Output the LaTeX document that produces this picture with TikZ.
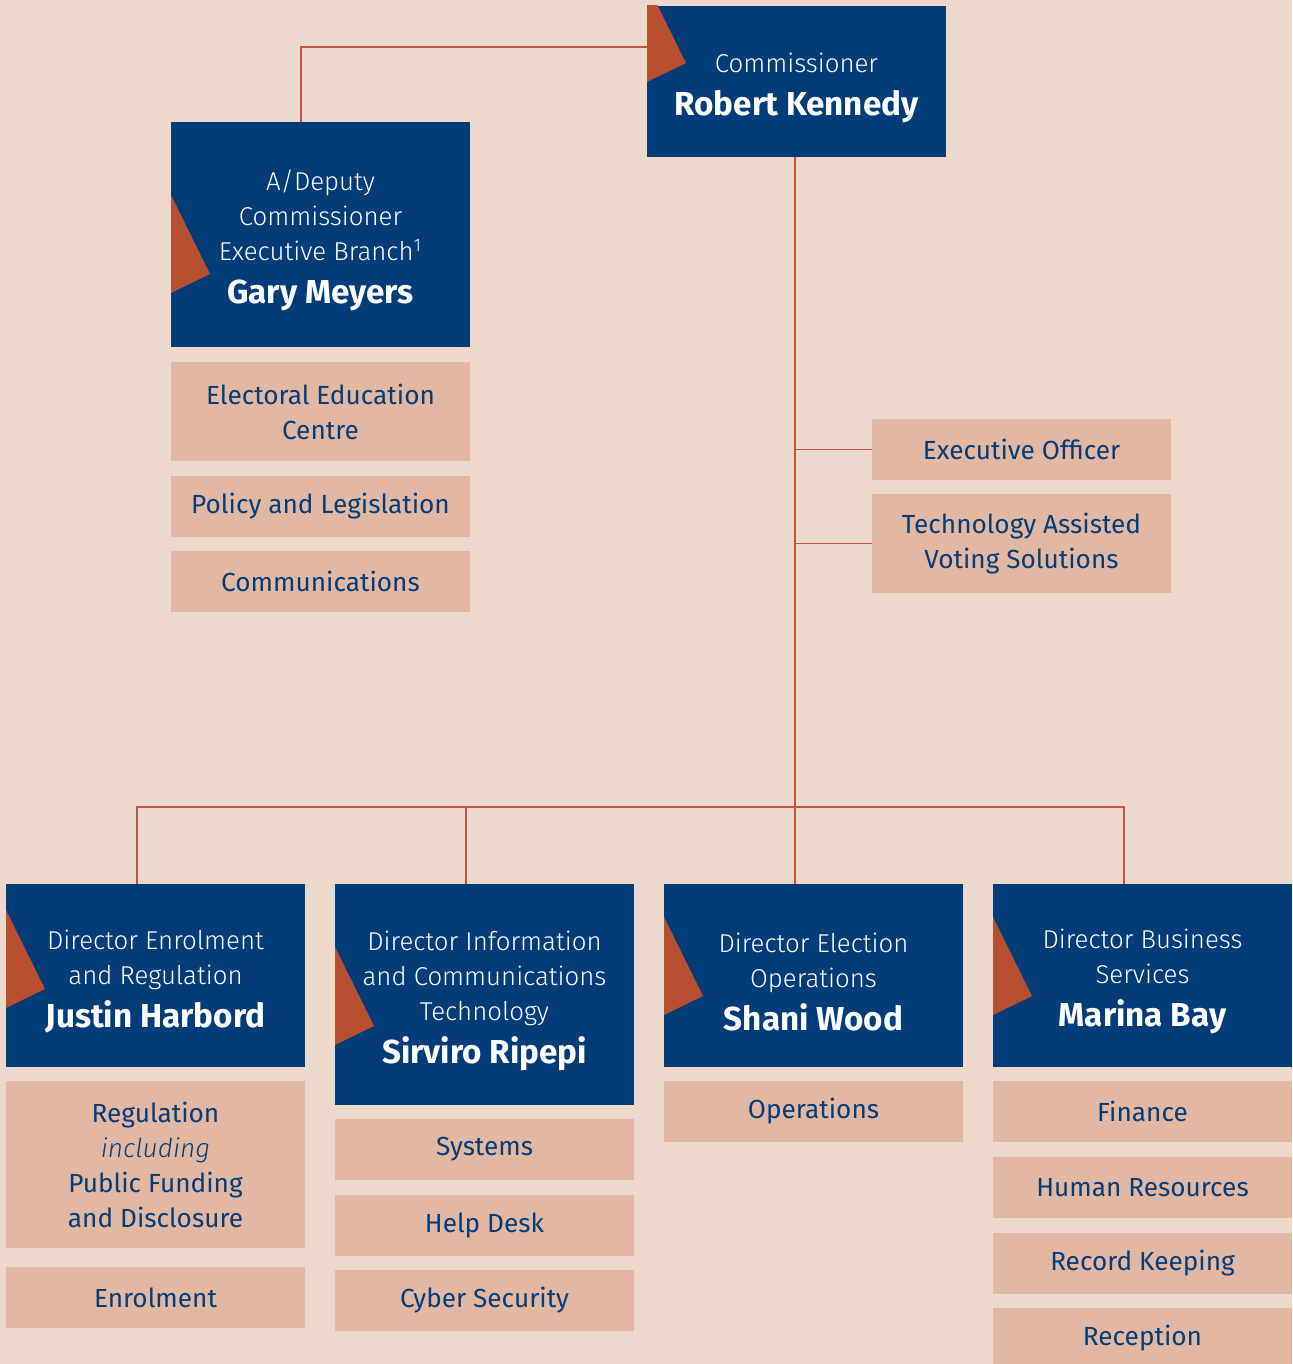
\documentclass[tikz,border=0pt]{standalone}
\usepackage{fontspec}
\setmainfont{Fira Sans}
\newfontfamily\lightfont{Fira Sans Light}
\newfontfamily\namefont{Fira Sans Bold}
\usepackage{xcolor}
\usetikzlibrary{positioning, calc}

\definecolor{pagebg}{HTML}{ECD9CB}
\definecolor{boxblue}{HTML}{023D7A}
\definecolor{accent}{HTML}{B84F30}
\definecolor{unitbg}{HTML}{E2B8A3}
\definecolor{linecol}{HTML}{C0563B}

\newcommand{\titlefont}{\lightfont\fontsize{12.9}{17.5}\selectfont}
\newcommand{\headstrut}{\rule{0pt}{16pt}}
\newcommand{\bigname}[1]{\\[4pt]{\namefont\fontsize{16.6}{20}\selectfont #1}}

\tikzset{
	headbox/.style 2 args={fill=boxblue, text=white, inner sep=0pt,
		minimum width=149.5pt, minimum height=#1, align=center,
		font=\titlefont,
		path picture={\fill[accent] ([yshift=-#2]path picture bounding box.north west)
			-- ++(19.5pt,-39.5pt) -- ++(-19.5pt,-9.5pt) -- cycle;}},
	unitbox/.style={fill=unitbg, text=boxblue, inner sep=0pt,
		minimum width=149.5pt, minimum height=#1, align=center,
		font=\fontsize{13.1}{17.5}\selectfont},
	unitbox/.default=30.5pt,
	link/.style={draw=linecol, line width=0.75pt}
}

\begin{document}
\begin{tikzpicture}[x=0.5pt, y=-0.5pt]
	\fill[pagebg] (0,0) rectangle (1292,1364);
	\useasboundingbox (0,0) rectangle (1292,1364);

	% Heads
	\node[headbox={75.5pt}{-11pt}] (comm) at (796.5,81.5) {\headstrut Commissioner\bigname{Robert Kennedy}};
	\node[headbox={112.5pt}{36.5pt}] (dep) at (320.5,234.5) {\headstrut A/Deputy\\Commissioner\\Executive Branch\textsuperscript{1}\bigname{Gary Meyers}};

	\node[headbox={91.5pt}{13pt}] (enr) at (155.5,975.5) {\headstrut Director Enrolment\\and Regulation\bigname{Justin Harbord}};
	\node[headbox={110.5pt}{31.5pt}] (ict) at (484.5,994.5) {\headstrut Director Information\\and Communications\\Technology\bigname{Sirviro Ripepi}};
	\node[headbox={91.5pt}{16.5pt}] (eop) at (813.5,975.5) {\headstrut Director Election\\Operations\bigname{Shani Wood}};
	\node[headbox={91.5pt}{16.5pt}] (bus) at (1142.5,975.5) {\headstrut Director Business\\Services\bigname{Marina Bay}};

	% Units
	\node[unitbox=49.5pt] (eec) at (320.5,411.5) {Electoral Education\\Centre};
	\node[unitbox] (pol) at (320.5,506) {Policy and Legislation};
	\node[unitbox] (com) at (320.5,581.5) {Communications};

	\node[unitbox] (exo) at (1021.5,449.5) {Executive Officer};
	\node[unitbox=49.5pt] (tav) at (1021.5,543.5) {Technology Assisted\\Voting Solutions};

	\node[unitbox=83.5pt] (reg) at (155.5,1164.5) {Regulation\\{\lightfont\itshape including}\\Public Funding\\and Disclosure};
	\node[unitbox] (enrl) at (155.5,1297.5) {Enrolment};

	\node[unitbox] (sys) at (484.5,1149.5) {Systems};
	\node[unitbox] (hlp) at (484.5,1225.5) {Help Desk};
	\node[unitbox] (cyb) at (484.5,1300.5) {Cyber Security};

	\node[unitbox] (ops) at (813.5,1111.5) {Operations};

	\node[unitbox] (fin) at (1142.5,1111.5) {Finance};
	\node[unitbox] (hr) at (1142.5,1187.5) {Human Resources};
	\node[unitbox] (rk) at (1142.5,1263.5) {Record Keeping};
	\node[unitbox] (rcp) at (1142.5,1338.5) {Reception};

	% Reporting lines
	\coordinate (rail) at (0,807);
	\coordinate (enrin) at ([xshift=-9.25pt]enr.north);
	\coordinate (ictin) at ([xshift=-9.25pt]ict.north);
	\coordinate (eopin) at ([xshift=-9.25pt]eop.north);
	\coordinate (busin) at ([xshift=-9.25pt]bus.north);

	\draw[link] ([yshift=17.25pt]comm.west) -| ([xshift=-9.75pt]dep.north);
	\draw[link] (comm.south -| eopin) -- (eopin);
	\draw[link] (eopin |- exo.west) -- (exo.west);
	\draw[link] (eopin |- tav.west) -- (tav.west);
	\draw[link] (enrin) |- (busin |- rail) -- (busin);
	\draw[link] (ictin) -- (ictin |- rail);
\end{tikzpicture}
\end{document}
